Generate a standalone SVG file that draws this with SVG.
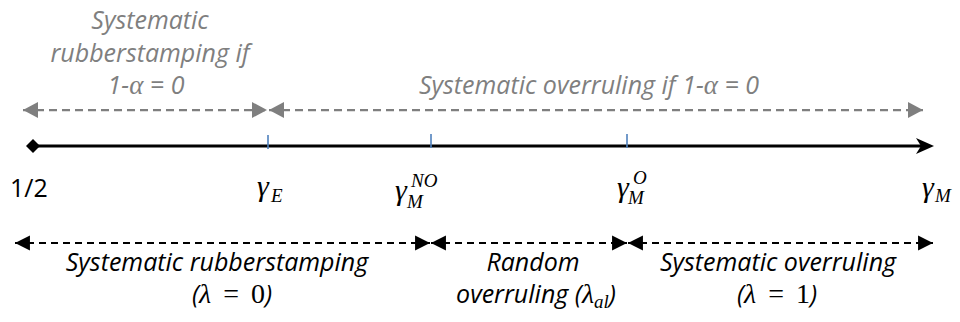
<svg xmlns="http://www.w3.org/2000/svg" width="960" height="322" viewBox="0 0 960 322">
<style>
.lbl{font-family:"Open Sans","Liberation Sans",sans-serif;font-style:italic;font-size:25px;text-anchor:middle}
.gray{fill:#7f7f7f}
.blk{fill:#000}
.m{font-family:"Liberation Serif","DejaVu Serif",serif;font-style:italic}
.mu{font-family:"Liberation Serif","DejaVu Serif",serif;font-style:normal}
.mlab{font-family:"Liberation Serif","DejaVu Serif",serif;font-style:italic;fill:#000}
.g{font-size:30px}
.s{font-size:19px}
.tick{stroke:#4f81bd;stroke-width:1.6}
.gdash{stroke:#7f7f7f;stroke-width:2.25;stroke-dasharray:8 5;fill:none}
.bdash{stroke:#000;stroke-width:2;stroke-dasharray:7 5;fill:none}
</style>
<defs>
<marker id="gh" markerUnits="userSpaceOnUse" markerWidth="16" markerHeight="18" refX="15" refY="8" orient="auto-start-reverse" viewBox="0 0 16 16">
<path d="M0,0 L15,8 L0,16 z" fill="#7f7f7f"/>
</marker>
<marker id="bh" markerUnits="userSpaceOnUse" markerWidth="16" markerHeight="16" refX="14" refY="7" orient="auto-start-reverse" viewBox="0 0 15 14">
<path d="M0,0 L14,7 L0,14 z" fill="#000"/>
</marker>
</defs>

<g id="axis">
<line x1="33" y1="146" x2="922" y2="146" stroke="#000" stroke-width="3"/>
<path d="M934,146 L916,138 L921,146 L916,154 z" fill="#000"/>
<path d="M33,139 L40,146 L33,153 L26,146 z" fill="#000"/>
<line class="tick" x1="268" y1="135" x2="268" y2="149"/>
<line class="tick" x1="431" y1="134" x2="431" y2="148"/>
<line class="tick" x1="627" y1="134" x2="627" y2="148"/>
</g>

<g id="connectors">
<line class="gdash" x1="23" y1="110" x2="267" y2="110" marker-start="url(#gh)" marker-end="url(#gh)"/>
<line class="gdash" x1="269" y1="110" x2="923" y2="110" marker-start="url(#gh)" marker-end="url(#gh)"/>
<line class="bdash" x1="15" y1="243" x2="430" y2="243" marker-start="url(#bh)" marker-end="url(#bh)"/>
<line class="bdash" x1="431" y1="243" x2="627" y2="243" marker-start="url(#bh)" marker-end="url(#bh)"/>
<line class="bdash" x1="628" y1="243" x2="933" y2="243" marker-start="url(#bh)" marker-end="url(#bh)"/>
</g>

<g id="label-half">
<text x="10" y="197" font-family="'Open Sans','Liberation Sans',sans-serif" font-size="25" fill="#000">1/2</text>
</g>
<g id="label-gammaE">
<text class="mlab"><tspan class="g" x="257" y="196">γ</tspan><tspan class="s" x="271" y="202">E</tspan></text>
</g>
<g id="label-gammaMNO">
<text class="mlab"><tspan class="g" x="395" y="200">γ</tspan><tspan class="s" x="407" y="208">M</tspan><tspan class="s" x="411" y="187">NO</tspan></text>
</g>
<g id="label-gammaMO">
<text class="mlab"><tspan class="g" x="617" y="197">γ</tspan><tspan class="s" x="628" y="204">M</tspan><tspan class="s" x="633" y="184">O</tspan></text>
</g>
<g id="label-gammaM">
<text class="mlab"><tspan class="g" x="922" y="197">γ</tspan><tspan class="s" x="935" y="202">M</tspan></text>
</g>

<g id="top-left-label" class="gray">
<text class="lbl" x="150" y="29">Systematic</text>
<text class="lbl" x="150" y="62">rubberstamping if</text>
<text class="lbl" x="146" y="94">1-<tspan class="m" font-size="27">α</tspan> = 0</text>
</g>
<g id="top-right-label" class="gray">
<text class="lbl" x="589" y="94">Systematic overruling if 1-<tspan class="m" font-size="27">α</tspan> = 0</text>
</g>

<g id="bottom-left-label" class="blk">
<text class="lbl" x="217" y="271">Systematic rubberstamping</text>
<text class="lbl" x="232" y="303">(<tspan class="m" font-size="28">λ</tspan><tspan class="mu" font-size="28" word-spacing="5"> = 0</tspan>)</text>
</g>
<g id="bottom-mid-label" class="blk">
<text class="lbl" x="533" y="271">Random</text>
<text class="lbl" x="536" y="303">overruling (<tspan class="m" font-size="28">λ</tspan><tspan class="m" font-size="19" dy="5">al</tspan><tspan dy="-5">)</tspan></text>
</g>
<g id="bottom-right-label" class="blk">
<text class="lbl" x="778" y="271">Systematic overruling</text>
<text class="lbl" x="777" y="303">(<tspan class="m" font-size="28">λ</tspan><tspan class="mu" font-size="28" word-spacing="5"> = 1</tspan>)</text>
</g>
</svg>
